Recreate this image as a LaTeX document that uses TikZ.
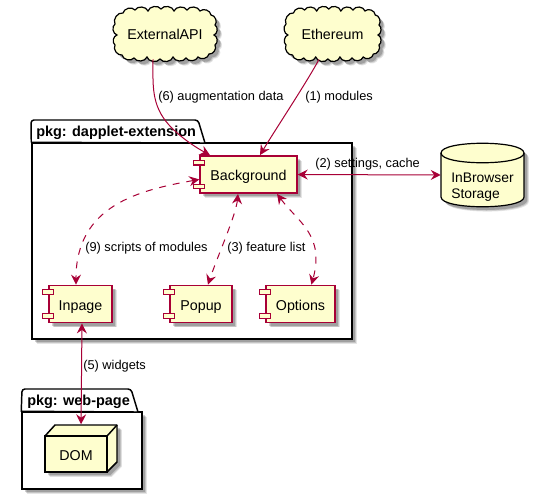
\documentclass[tikz,border=0pt]{standalone}
\usepackage{fontspec}
\setmainfont{Liberation Sans}
\usetikzlibrary{arrows.meta,shadows}
\definecolor{umlred}{HTML}{A80036}
\definecolor{umlfill}{HTML}{FEFECE}
\tikzset{
  softshadow/.style={
    general shadow={fill=black,opacity=.10,shadow xshift=3.6pt,shadow yshift=-3.6pt},
    general shadow={fill=black,opacity=.14,shadow xshift=3pt,shadow yshift=-3pt},
    general shadow={fill=black,opacity=.18,shadow xshift=2.4pt,shadow yshift=-2.4pt}},
  comp/.style={draw=umlred,fill=umlfill,line width=1.1pt,softshadow,rectangle,inner sep=0pt,font=\fontsize{10.7}{12}\selectfont,text height=9.5pt,text depth=0pt,minimum height=28pt},
  port/.style={draw=umlred,fill=umlfill,line width=.8pt,rectangle,inner sep=0pt,minimum width=8pt,minimum height=3.6pt},
  lbl/.style={anchor=west,inner sep=0pt,font=\fontsize{9.6}{12}\selectfont,text=black},
  pkgbody/.style={draw=black,fill=white,line width=1.1pt,softshadow,rectangle,inner sep=0pt},
  pkgtab/.style={draw=black,fill=white,line width=1.1pt,line join=round},
  pkgname/.style={anchor=west,inner sep=0pt,font=\fontsize{10.85}{12}\selectfont\bfseries},
  puff/.style={bend left=65},
  cloudline/.style={draw=black,fill=umlfill,line width=.9pt,softshadow},
  textonly/.style={rectangle,inner sep=0pt,font=\fontsize{10.7}{12}\selectfont},
  link/.style={draw=umlred,line width=.75pt,{Stealth[length=7.5pt,width=7.5pt,inset=2.6pt]}-{Stealth[length=7.5pt,width=7.5pt,inset=2.6pt]}},
  onelink/.style={draw=umlred,line width=.75pt,-{Stealth[length=7.5pt,width=7.5pt,inset=2.6pt]}},
  dash7/.style={dash pattern=on 5.2pt off 5.2pt},
}
\newcommand{\umlcomp}[4]{%
  \node[comp,minimum width=#3] (#1) at (#2) {#4};
  \node[port] (#1p1) at ([yshift=-5.6pt]#1.north west) {};
  \node[port] (#1p2) at ([yshift=5.6pt]#1.south west) {};
}
\newcommand{\cloudoutline}{(-42,-21) to[puff] (-30,-24) to[puff] (-17,-23) to[puff] (-4,-25) to[puff] (9,-23) to[puff] (22,-24) to[puff] (35,-23) to[puff] (46,-19)
  to[puff] (50,-9) to[puff] (49,1) to[puff] (50,11)
  to[puff] (44,20) to[puff] (33,23) to[puff] (21,24) to[puff] (8,23) to[puff] (-5,25) to[puff] (-18,23) to[puff] (-31,24) to[puff] (-43,21)
  to[puff] (-50,11) to[puff] (-48,1) to[puff] (-50,-10) to[puff] cycle}
\begin{document}
\begin{tikzpicture}[x=.75pt,y=-.75pt]
\useasboundingbox (0,0) rectangle (534,500);
\fill[white] (0,0) rectangle (534,500);

% package dapplet-extension
\node[pkgbody,minimum width=240pt,minimum height=147pt] (pkgA) at (192,241) {};
\draw[pkgtab,rounded corners=2.2pt] (pkgA.north west) -- (31,120) -- (198,120) [sharp corners] -- (205,143) -- cycle;
\node[pkgname] (pkgAname) at (36,132.5) {pkg: dapplet-extension};

% package web-page
\node[pkgbody,minimum width=90pt,minimum height=57.75pt] (pkgB) at (82,450.5) {};
\draw[pkgtab,rounded corners=2.2pt] (pkgB.north west) -- (22,389) -- (131,389) [sharp corners] -- (138,412) -- cycle;
\node[pkgname] (pkgBname) at (27,401.5) {pkg: web-page};

% clouds
\begin{scope}[shift={(165,34)}]
  \path[cloudline] \cloudoutline;
\end{scope}
\begin{scope}[shift={(332.5,34)},xscale=.93]
  \path[cloudline] \cloudoutline;
\end{scope}
\node[textonly,minimum width=79pt,minimum height=42pt] (ext) at (165,34.5) {ExternalAPI};
\node[textonly,minimum width=71pt,minimum height=42pt] (eth) at (332.5,34.5) {Ethereum};

% database
\path[draw=black,fill=umlfill,line width=.9pt,softshadow] (441,153) .. controls (441,140) and (524,140) .. (524,153) -- (524,197) .. controls (524,210) and (441,210) .. (441,197) -- cycle;
\draw[black,line width=.9pt] (441,153) .. controls (441,166) and (524,166) .. (524,153);
\node[rectangle,inner sep=0pt,minimum width=62.25pt,minimum height=48pt] (db) at (482.5,175) {};
\node[anchor=west,align=left,inner sep=0pt,font=\fontsize{10.4}{12.2}\selectfont] (dbtext) at (451,187) {InBrowser\\Storage};

% components
\umlcomp{bg}{248.5,174.5}{72.75pt}{Background}
\umlcomp{inp}{80.5,304}{47.25pt}{Inpage}
\umlcomp{pop}{201,304}{46.5pt}{Popup}
\umlcomp{opt}{300.5,304}{51.75pt}{Options}

% DOM node
\path[draw=black,fill=umlfill,line width=1.1pt,line join=round,softshadow] (45,436) -- (55,425) -- (117,425) -- (117,462) -- (107,472) -- (45,472) -- cycle;
\node[rectangle,draw=black,fill=umlfill,line width=1.1pt,inner sep=0pt,minimum width=46.5pt,minimum height=27pt,text height=9.5pt,text depth=0pt,font=\fontsize{10.7}{12}\selectfont] (dom) at (76,454) {DOM};
\draw[black,line width=1.1pt,line join=round] (dom.north east) -- (117,425);

% connectors
\draw[onelink] ([xshift=-9pt,yshift=2.5pt]ext.south) .. controls (153,85) and (151,105) .. (169,125) .. controls (180,137) and (195,147) .. ([xshift=-28.9pt]bg.north);
\draw[onelink] ([xshift=-10.1pt,yshift=2.5pt]eth.south) .. controls (305,85) and (277,127) .. ([xshift=8.6pt]bg.north);
\draw[link] (bg.east) -- (db.west);
\draw[link,dash7] ([yshift=-3.7pt]bg.west) .. controls (140,190) and (76,205) .. ([xshift=-3.4pt]inp.north);
\draw[link,dash7] ([xshift=-7.9pt]bg.south) .. controls (236,215) and (218,255) .. ([xshift=5.2pt]pop.north);
\draw[link,dash7] ([xshift=21.4pt]bg.south) .. controls (298,222) and (325,235) .. ([xshift=8.2pt]opt.north);
\draw[link] ([xshift=1.1pt]inp.south) -- ([xshift=3.8pt,yshift=8.25pt]dom.north);

% labels
\node[lbl] (l6) at (158,97) {(6) augmentation data};
\node[lbl] (l1) at (305,97) {(1) modules};
\node[lbl] (l2) at (315,164) {(2) settings, cache};
\node[lbl] (l9) at (85,248) {(9) scripts of modules};
\node[lbl] (l3) at (227,248) {(3) feature list};
\node[lbl] (l5) at (83,366) {(5) widgets};
\end{tikzpicture}
\end{document}
